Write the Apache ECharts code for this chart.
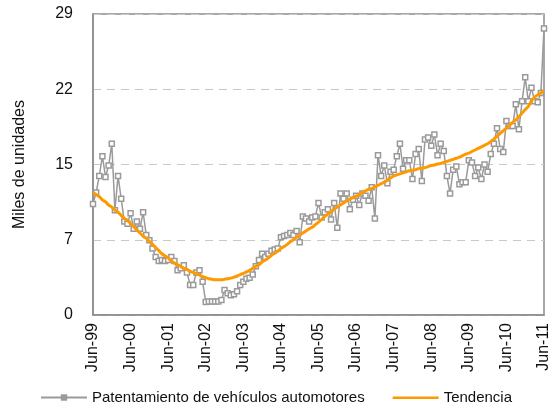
<!DOCTYPE html>
<html>
<head>
<meta charset="utf-8">
<script src="https://cdn.jsdelivr.net/npm/echarts@6/dist/echarts.min.js"></script>
<style>
  html, body { margin: 0; padding: 0; background: #fff; }
  #chart { width: 552px; height: 414px; }
</style>
</head>
<body>
<div id="chart"></div>
<script>
  // monthly, Jun-99 .. Jun-11
  var months = ['Ene', 'Feb', 'Mar', 'Abr', 'May', 'Jun', 'Jul', 'Ago', 'Sep', 'Oct', 'Nov', 'Dic'];
  var yearTicks = ['Jun-99', 'Jun-00', 'Jun-01', 'Jun-02', 'Jun-03', 'Jun-04', 'Jun-05',
                   'Jun-06', 'Jun-07', 'Jun-08', 'Jun-09', 'Jun-10', 'Jun-11'];

  var patentamiento = [
    10.7, 11.8, 13.4, 15.3, 13.3, 14.4, 16.5, 10.1, 13.4, 11.2,
    9.0, 8.8, 9.8, 8.3, 9.0, 8.3, 9.9, 7.7, 7.2, 6.4,
    5.6, 5.2, 5.3, 5.2, 5.3, 5.6, 5.2, 4.3, 4.5, 4.8,
    4.1, 2.9, 2.9, 4.1, 4.3, 3.2, 1.25, 1.3, 1.3, 1.3,
    1.3, 1.45, 2.4, 2.1, 1.9, 2.0, 2.3, 2.9, 3.2, 3.5,
    3.6, 3.9, 4.7, 5.3, 5.9, 5.6, 5.9, 6.2, 6.3, 6.4,
    7.5, 7.6, 7.7, 7.9, 7.7, 8.1, 7.0, 9.5, 9.3, 9.0,
    9.4, 9.5, 10.8, 9.4, 9.9, 10.2, 9.2, 10.8, 8.4, 11.7,
    11.2, 11.7, 10.2, 11.1, 11.5, 10.6, 11.7, 11.5, 11.0, 12.3,
    9.3, 15.4, 13.4, 14.4, 12.7, 13.8, 14.0, 15.3, 16.5, 14.1,
    14.9, 14.9, 13.1, 15.5, 16.0, 12.9, 16.9, 17.1, 16.3, 17.4,
    15.4, 16.5, 15.8, 13.4, 11.7, 14.0, 14.3, 12.6, 12.8, 12.8,
    14.9, 14.7, 13.4, 14.2, 13.1, 14.5, 13.8, 15.5, 16.5, 18.0,
    16.0, 15.7, 18.7, 18.2, 18.2, 20.3, 17.9, 20.6, 22.9, 20.6,
    21.9, 20.6, 20.5, 21.4, 27.6
  ];

  var tendencia = [
    11.8, 11.6, 11.4, 11.1, 10.9, 10.6, 10.4, 10.1, 9.9, 9.6,
    9.3, 9.1, 8.8, 8.5, 8.2, 7.9, 7.6, 7.4, 7.1, 6.8,
    6.5, 6.2, 5.9, 5.7, 5.5, 5.2, 5.0, 4.85, 4.7, 4.5,
    4.4, 4.2, 4.1, 4.0, 3.85, 3.7, 3.6, 3.5, 3.45, 3.4,
    3.4, 3.4, 3.45, 3.5, 3.55, 3.65, 3.75, 3.9, 4.0, 4.15,
    4.3, 4.5, 4.7, 4.85, 5.1, 5.3, 5.5, 5.75, 5.95, 6.15,
    6.4, 6.6, 6.8, 7.05, 7.25, 7.5, 7.7, 7.9, 8.1, 8.3,
    8.45, 8.7, 8.95, 9.2, 9.5, 9.7, 9.95, 10.2, 10.4, 10.6,
    10.8, 11.0, 11.15, 11.3, 11.45, 11.6, 11.8, 11.95, 12.1, 12.2,
    12.35, 12.5, 12.65, 12.8, 13.0, 13.2, 13.4, 13.5, 13.6, 13.7,
    13.8, 13.9, 13.95, 14.0, 14.1, 14.15, 14.2, 14.3, 14.4, 14.45,
    14.55, 14.6, 14.7, 14.8, 14.9, 15.0, 15.1, 15.2, 15.35, 15.5,
    15.6, 15.75, 15.9, 16.05, 16.2, 16.35, 16.5, 16.7, 16.95, 17.2,
    17.5, 17.75, 18.0, 18.3, 18.55, 18.8, 19.1, 19.45, 19.8, 20.1,
    20.6, 21.0, 21.2, 21.4, 21.6
  ];

  // category labels Jun-99 ... Jun-11
  var categorias = [];
  for (var i = 0; i < patentamiento.length; i++) {
    var m = (5 + i) % 12;
    var y = (1999 + Math.floor((5 + i) / 12)) % 100;
    categorias.push(months[m] + '-' + (y < 10 ? '0' + y : y));
  }

  var myChart = echarts.init(document.getElementById('chart'));
  var fontFam = '"Liberation Sans", Arial, sans-serif';

  var option = {
    animation: false,
    textStyle: { fontFamily: fontFam },
    grid: {
      left: 93, right: 2, top: 14, bottom: 99,
      show: true, borderColor: '#8c8c8c', borderWidth: 1.5
    },
    legend: {
      bottom: 4,
      left: 'center',
      itemWidth: 46,
      itemHeight: 8,
      itemGap: 28,
      textStyle: { fontSize: 15, color: '#111', fontFamily: fontFam },
      data: [
        { name: 'Patentamiento de vehículos automotores', itemStyle: { color: '#9a9a9a', borderWidth: 0 } },
        { name: 'Tendencia', icon: 'path://M0,0L46,0L46,0.01Z M0,3h46v2.6h-46Z M0,8L46,8L46,8.01Z' }
      ]
    },
    xAxis: {
      type: 'category',
      boundaryGap: false,
      data: categorias,
      axisLine: { lineStyle: { color: '#8c8c8c', width: 1.5 } },
      axisTick: { show: false },
      axisLabel: {
        rotate: 90,
        interval: 11,
        margin: 8,
        fontSize: 16,
        color: '#111',
        formatter: function (v, idx) { return yearTicks[idx / 12] || ''; }
      },
      splitLine: { show: false }
    },
    yAxis: {
      type: 'value',
      min: 0,
      max: 29,
      interval: 7.25,
      name: 'Miles de unidades',
      nameLocation: 'middle',
      nameGap: 65,
      nameRotate: 90,
      nameTextStyle: { fontSize: 16, color: '#111' },
      axisLine: { show: true, lineStyle: { color: '#8c8c8c', width: 1.5 } },
      axisTick: { show: false },
      axisLabel: {
        fontSize: 16,
        color: '#111',
        margin: 20,
        formatter: function (v) { return Math.round(v); }
      },
      splitLine: { lineStyle: { color: '#c8c8c8', type: [8, 6], width: 1 } }
    },
    series: [
      {
        name: 'Patentamiento de vehículos automotores',
        type: 'line',
        data: patentamiento,
        symbol: 'rect',
        symbolSize: 5,
        showAllSymbol: true,
        lineStyle: { color: '#9a9a9a', width: 1.5 },
        itemStyle: { color: '#ffffff', borderColor: '#9a9a9a', borderWidth: 1.5 },
        z: 2
      },
      {
        name: 'Tendencia',
        type: 'line',
        data: tendencia,
        symbol: 'none',
        smooth: true,
        lineStyle: { color: '#ff9900', width: 3 },
        itemStyle: { color: '#ff9900' },
        z: 3
      }
    ]
  };

  myChart.setOption(option);
</script>
</body>
</html>
